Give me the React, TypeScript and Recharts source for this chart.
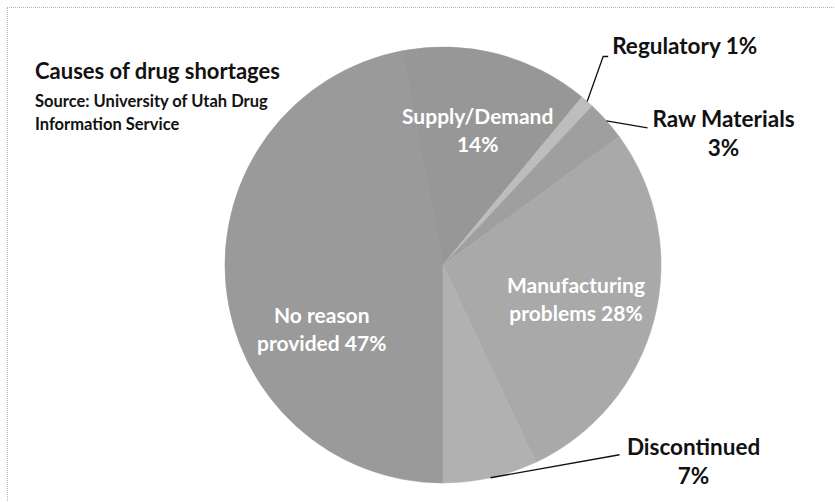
import { PieChart, Pie, Cell } from "recharts";

const causes = ["No reason provided", "Supply/Demand", "Regulatory", "Raw Materials", "Manufacturing problems", "Discontinued"];
const shares = [47, 14, 1, 3, 28, 7];
const sliceColors = ["#9a9a9a", "#979797", "#bdbdbd", "#9f9f9f", "#a9a9a9", "#b1b1b1"];

const rows = causes.map((name, i) => ({ name, value: shares[i] }));

const FONT = "Lato, 'Open Sans', sans-serif";
const RAD = Math.PI / 180;

// inside labels: line breaks + small nudges from the slice mid point
const inner: Record<string, { lines: string[]; r: number; angle?: number }> = {
  "Supply/Demand": { lines: ["Supply/Demand", "14%"], r: 0.64 },
  "No reason provided": { lines: ["No reason", "provided 47%"], r: 0.63, angle: 208 },
  "Manufacturing problems": { lines: ["Manufacturing", "problems 28%"], r: 0.63 },
};

// outside labels: leader line path (offsets from the slice edge) and text
const outer: Record<string, { path: [number, number][]; lines: string[]; tx: number; ty: number; anchor: "start" | "middle" }> = {
  Regulatory: { path: [[16, -45], [21, -45]], lines: ["Regulatory 1%"], tx: 25, ty: -47, anchor: "start" },
  "Raw Materials": { path: [[41, 7]], lines: ["Raw Materials", "3%"], tx: 117, ty: 6, anchor: "middle" },
  Discontinued: { path: [[129, -23]], lines: ["Discontinued", "7%"], tx: 203, ty: -23, anchor: "middle" },
};

function renderLabel(props: any) {
  const { cx, cy, midAngle, outerRadius, name } = props;
  const inn = inner[name];
  if (inn) {
    const a = inn.angle ?? midAngle;
    const r = outerRadius * inn.r;
    const x = cx + r * Math.cos(-a * RAD);
    const y = cy + r * Math.sin(-a * RAD);
    return (
      <text x={x} y={y - 6} textAnchor="middle" fill="#fff" fontFamily={FONT} fontWeight={700} fontSize={21}>
        {inn.lines.map((l, i) => (
          <tspan key={i} x={x} dy={i === 0 ? 0 : 28}>
            {l}
          </tspan>
        ))}
      </text>
    );
  }
  const out = outer[name];
  if (!out) return null;
  const sx = cx + outerRadius * Math.cos(-midAngle * RAD);
  const sy = cy + outerRadius * Math.sin(-midAngle * RAD);
  const pts = [[sx, sy], ...out.path.map(([dx, dy]) => [sx + dx, sy + dy])];
  const tx = sx + out.tx;
  const ty = sy + out.ty;
  return (
    <g>
      <polyline points={pts.map((p) => p.join(",")).join(" ")} fill="none" stroke="#111" strokeWidth={1.3} />
      <text x={tx} y={ty} textAnchor={out.anchor} fill="#111" fontFamily={FONT} fontWeight={700} fontSize={22.5}>
        {out.lines.map((l, i) => (
          <tspan key={i} x={tx} dy={i === 0 ? 0 : 29}>
            {l}
          </tspan>
        ))}
      </text>
    </g>
  );
}

export default function App() {
  return (
    <div style={{ position: "absolute", left: 0, top: 0, width: 835, height: 502, background: "#fff" }}>
      <div
        style={{
          position: "absolute",
          left: 7,
          top: 7,
          width: 828,
          height: 495,
          borderTop: "1px dotted #b5b5b5",
          borderLeft: "1px dotted #b5b5b5",
        }}
      />
      <PieChart width={835} height={502} style={{ position: "absolute", left: 0, top: 0 }}>
        <text x={35} y={79} fontFamily={FONT} fontWeight={700} fontSize={22} fill="#111">
          Causes of drug shortages
        </text>
        <text x={35} y={107} fontFamily={FONT} fontWeight={700} fontSize={16.5} fill="#111">
          Source: University of Utah Drug
        </text>
        <text x={35} y={130} fontFamily={FONT} fontWeight={700} fontSize={16.5} fill="#111">
          Information Service
        </text>
        <Pie
          data={rows}
          dataKey="value"
          nameKey="name"
          cx={438}
          cy={260}
          outerRadius={218}
          startAngle={270}
          endAngle={-90}
          label={renderLabel}
          labelLine={false}
          isAnimationActive={false}
        >
          {rows.map((r, i) => (
            <Cell key={r.name} fill={sliceColors[i]} stroke={sliceColors[i]} strokeWidth={0.6} />
          ))}
        </Pie>
      </PieChart>
    </div>
  );
}
